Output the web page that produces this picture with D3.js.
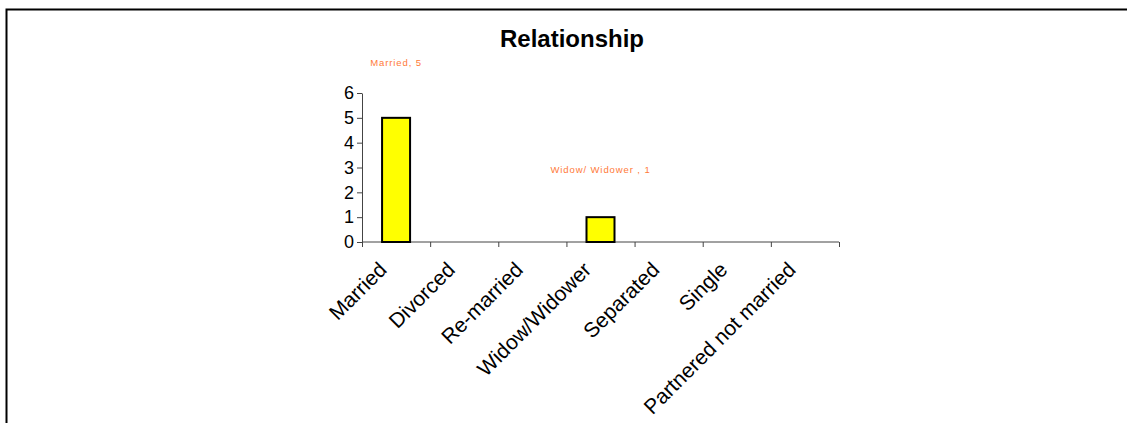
<!DOCTYPE html>
<meta charset="utf-8">
<style>
  body { margin: 0; background: #fff; }
  text { font-family: Arial, "Liberation Sans", sans-serif; }
</style>
<div id="chart"></div>

<script src="https://cdn.jsdelivr.net/npm/d3@7"></script>
<script>

var categories = ["Married", "Divorced", "Re-married", "Widow/Widower", "Separated", "Single", "Partnered not married"];
var counts = [5, 0, 0, 1, 0, 0, 0];
var yTicks = [0, 1, 2, 3, 4, 5, 6];
var dataLabels = ["Married, 5", null, null, "Widow/ Widower , 1", null, null, null];

var width = 1127,
    height = 423;

var svg = d3.select("#chart")
  .append("svg")
    .attr("width", width)
    .attr("height", height);

// outer frame (top and left only, as in the picture)
svg.append("path")
  .attr("d", "M6.5," + height + "V9.5H" + width)
  .attr("fill", "none")
  .attr("stroke", "#000")
  .attr("stroke-width", 2);

var data = categories.map(function(c, i) {
  return {cat: c, value: counts[i], label: dataLabels[i]};
});

var x = d3.scaleBand()
  .domain(categories)
  .range([362, 839]);

var y = d3.scaleLinear()
  .domain([0, 6])
  .range([242, 93]);

// title
svg.append("text")
  .attr("x", 572)
  .attr("y", 47)
  .attr("text-anchor", "middle")
  .style("font-weight", "bold")
  .style("font-size", "24px")
  .text("Relationship");

// Y axis
var yAxis = svg.append("g")
  .attr("transform", "translate(362,0)")
  .call(d3.axisLeft(y).tickValues(yTicks).tickFormat(d3.format("d")).tickSize(5).tickSizeOuter(0));
yAxis.selectAll("text")
  .style("font-size", "18px")
  .style("font-family", "Arial, 'Liberation Sans', sans-serif")
  .attr("fill", "#000")
  .attr("x", -8);
yAxis.select(".domain").attr("stroke", "#444");
yAxis.selectAll(".tick line").attr("stroke", "#444");

// X axis, ticks between categories
var xAxis = svg.append("g")
  .attr("transform", "translate(0,242)");
xAxis.append("line")
  .attr("x1", x.range()[0]).attr("x2", x.range()[1])
  .attr("stroke", "#444");
xAxis.selectAll(".tk")
  .data(categories.concat([null]))
  .enter().append("line")
    .attr("x1", function(d, i) { return x.range()[0] + i * x.step() + 0.5; })
    .attr("x2", function(d, i) { return x.range()[0] + i * x.step() + 0.5; })
    .attr("y1", 0).attr("y2", 5)
    .attr("stroke", "#444");
xAxis.selectAll(".lbl")
  .data(categories)
  .enter().append("text")
    .attr("transform", function(d) {
      return "translate(" + (x(d) + x.bandwidth() / 2 - 8) + ",29)rotate(-45)";
    })
    .attr("text-anchor", "end")
    .style("font-size", "21px")
    .text(function(d) { return d; });

// Bars
var barW = 28;
svg.selectAll(".bar")
  .data(data.filter(function(d) { return d.value > 0; }))
  .enter().append("rect")
    .attr("x", function(d) { return x(d.cat) + x.bandwidth() / 2 - barW / 2; })
    .attr("width", barW)
    .attr("y", function(d) { return y(d.value); })
    .attr("height", function(d) { return y(0) - y(d.value); })
    .attr("fill", "#ffff00")
    .attr("stroke", "#000")
    .attr("stroke-width", 2);

// data labels (placed where the picture has them)
var labelLift = {"Married": 2.22, "Widow/Widower": 1.93};
svg.selectAll(".dl")
  .data(data.filter(function(d) { return d.label; }))
  .enter().append("text")
    .attr("x", function(d) { return x(d.cat) + x.bandwidth() / 2; })
    .attr("y", function(d) { return y(d.value + labelLift[d.cat]); })
    .attr("text-anchor", "middle")
    .attr("dy", "0.35em")
    .style("font-size", "9.5px")
    .style("letter-spacing", "0.9px")
    .attr("fill", "#ff7a38")
    .text(function(d) { return d.label; });

</script>
